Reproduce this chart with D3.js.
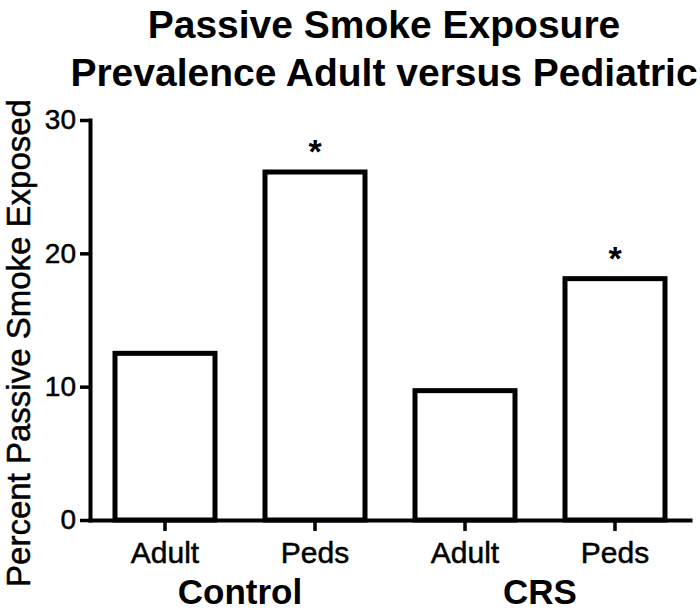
<!DOCTYPE html>
<html>
<head>
<meta charset="utf-8">
<script src="https://cdn.jsdelivr.net/npm/d3@7"></script>
<style>
  html, body { margin: 0; padding: 0; background: #fff; }
  svg { display: block; font-family: "Liberation Sans", Arial, sans-serif; }
</style>
</head>
<body>
<svg id="chart" width="700" height="614"></svg>
<script>
// ---- data ----
const groups = ["Control", "CRS"];
const categories = ["Adult", "Peds", "Adult", "Peds"];
const categoryGroup = ["Control", "Control", "CRS", "CRS"];
const values = [12.5, 26.1, 9.7, 18.1];
const significant = [false, true, false, true];
const yTicks = [0, 10, 20, 30];
const titleLines = ["Passive Smoke Exposure", "Prevalence Adult versus Pediatric"];
const yLabel = "Percent Passive Smoke Exposed";

// ---- layout ----
const svg = d3.select("#chart");
const keys = categories.map((c, i) => categoryGroup[i] + "-" + c);

const x = d3.scaleBand()
  .domain(keys)
  .range([90, 690])
  .paddingInner(1 / 3)
  .paddingOuter(1 / 6);

const y = d3.scaleLinear()
  .domain([0, 30])
  .range([520, 120]);

// title
svg.append("g").selectAll("text")
  .data(titleLines)
  .join("text")
  .attr("x", 384)
  .attr("y", (d, i) => 38 + i * 48)
  .attr("text-anchor", "middle")
  .attr("font-weight", "bold")
  .attr("font-size", 39)
  .attr("fill", "#000")
  .text(d => d);

// bars
const data = keys.map((k, i) => ({ key: k, value: values[i], sig: significant[i] }));

svg.append("g").selectAll("rect")
  .data(data)
  .join("rect")
  .attr("x", d => x(d.key))
  .attr("y", d => y(d.value))
  .attr("width", x.bandwidth())
  .attr("height", d => y(0) - y(d.value))
  .attr("fill", "#fff")
  .attr("stroke", "#000")
  .attr("stroke-width", 5);

// asterisks
svg.append("g").selectAll("text")
  .data(data.filter(d => d.sig))
  .join("text")
  .attr("x", d => x(d.key) + x.bandwidth() / 2)
  .attr("y", d => y(d.value) - 9)
  .attr("text-anchor", "middle")
  .attr("font-weight", "bold")
  .attr("font-size", 34)
  .text("*");

// y axis
const yAxis = svg.append("g")
  .attr("transform", "translate(90,0)")
  .call(d3.axisLeft(y).tickValues(yTicks).tickSize(10).tickSizeOuter(0).tickPadding(4));
yAxis.select(".domain").attr("stroke-width", 4).attr("stroke-linecap", "square");
yAxis.selectAll(".tick line").attr("stroke-width", 3.5);
yAxis.selectAll(".tick text").attr("font-size", 28).attr("fill", "#000")
  .attr("stroke", "#000").attr("stroke-width", 0.5)
  .attr("font-family", "Liberation Sans, Arial, sans-serif");

// x axis
const xAxis = svg.append("g")
  .attr("transform", "translate(0,520)")
  .call(d3.axisBottom(x).tickSize(11).tickSizeOuter(0).tickPadding(11)
    .tickFormat((d, i) => categories[i]));
xAxis.select(".domain").attr("stroke-width", 4).attr("stroke-linecap", "square");
xAxis.selectAll(".tick line").attr("stroke-width", 3.5);
xAxis.selectAll(".tick text").attr("font-size", 30).attr("fill", "#000")
  .attr("stroke", "#000").attr("stroke-width", 0.5)
  .attr("font-family", "Liberation Sans, Arial, sans-serif");

// group labels
svg.append("g").selectAll("text")
  .data(groups)
  .join("text")
  .attr("x", g => {
    const ks = keys.filter((k, i) => categoryGroup[i] === g);
    const a = x(ks[0]) + x.bandwidth() / 2;
    const b = x(ks[ks.length - 1]) + x.bandwidth() / 2;
    return (a + b) / 2;
  })
  .attr("y", 604)
  .attr("text-anchor", "middle")
  .attr("font-weight", "bold")
  .attr("font-size", 35)
  .text(g => g);

// y label
svg.append("text")
  .attr("transform", "translate(30,343) rotate(-90)")
  .attr("text-anchor", "middle")
  .attr("font-size", 33)
  .attr("stroke", "#000")
  .attr("stroke-width", 0.5)
  .text(yLabel);
</script>
</body>
</html>
